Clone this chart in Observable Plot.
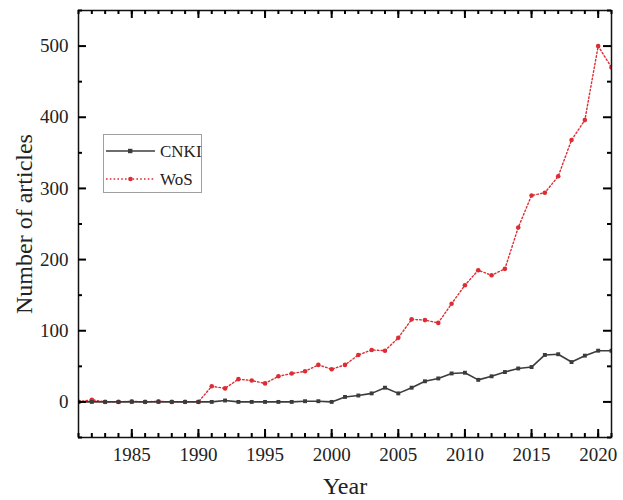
<!DOCTYPE html>
<html>
<head>
<meta charset="utf-8">
<script src="https://cdn.jsdelivr.net/npm/d3@7"></script>
<script src="https://cdn.jsdelivr.net/npm/@observablehq/plot@0.6"></script>
<style>
  html, body { margin: 0; padding: 0; background: #fff; }
  #wrap { position: relative; width: 623px; height: 500px; }
  #legend { position: absolute; left: 103px; top: 134px; }
</style>
</head>
<body>
<div id="wrap"></div>
<script>
const years = d3.range(1981, 2022);
const cnki = [0,0,0,0,0,0,0,0,0,0, 0,2,0,0,0,0,0,1,1,0, 7,9,12,20,12,20,29,33,40,41, 31,36,42,47,49,66,67,56,65,72, 72];
const wos  = [0,3,0,0,1,0,1,0,0,0, 22,19,32,30,26,36,40,43,52,46, 52,66,73,72,90,116,115,111,138,164, 185,178,187,245,290,294,317,368,396,500, 470];
const seriesNames = ["CNKI", "WoS"];
const xMajor = [1985, 1990, 1995, 2000, 2005, 2010, 2015, 2020];
const yMajor = [0, 100, 200, 300, 400, 500];
const yMinor = [-50, 50, 150, 250, 350, 450, 550];

const cnkiData = years.map((y, i) => ({year: y, value: cnki[i]}));
const wosData = years.map((y, i) => ({year: y, value: wos[i]}));

const red = "#dc2c34";
const dark = "#3c3c3c";
const font = "'Liberation Serif', 'Times New Roman', serif";

const W = 623, H = 500, mL = 78, mR = 12, mT = 10, mB = 63;
const innerW = W - mL - mR, innerH = H - mT - mB;
const xDom = [1981, 2021], yDom = [-50, 550];
const kx = (xDom[1] - xDom[0]) / innerW, ky = (yDom[1] - yDom[0]) / innerH;
const major = 8, minor = 4;
const tk = {stroke: "#000", strokeWidth: 2};

const plot = Plot.plot({
  width: W, height: H,
  marginLeft: mL, marginRight: mR, marginTop: mT, marginBottom: mB,
  style: {fontFamily: font, fontSize: "19px", background: "#fff"},
  x: {domain: xDom},
  y: {domain: yDom},
  marks: [
    // series
    Plot.line(wosData, {x: "year", y: "value", stroke: red, strokeWidth: 1.4, strokeDasharray: "1.6,2.2", clip: true}),
    Plot.dot(wosData, {x: "year", y: "value", r: 2.3, fill: red, stroke: "none", clip: true}),
    Plot.line(cnkiData, {x: "year", y: "value", stroke: dark, strokeWidth: 1.6, clip: true}),
    Plot.dot(cnkiData, {x: "year", y: "value", symbol: "square", r: 2.2, fill: dark, stroke: "none", clip: true}),
    Plot.frame({stroke: "#111", strokeWidth: 1.5}),
    // major axes with labels and inward ticks
    Plot.axisX(xMajor, {anchor: "bottom", tickSize: -major, tickPadding: 10 + major, tickFormat: d => String(d), label: null, fontSize: 19, color: "#222", ...tk}),
    Plot.axisY(yMajor, {anchor: "left", tickSize: -major, tickPadding: 10 + major, tickFormat: d => String(d), label: null, fontSize: 19, color: "#222", ...tk}),
    // minor bottom ticks, top ticks
    Plot.ruleX(years, {x: d => d, y1: yDom[0], y2: yDom[0] + minor * ky, ...tk}),
    Plot.ruleX(xMajor, {x: d => d, y1: yDom[1], y2: yDom[1] - major * ky, ...tk}),
    Plot.ruleX(years, {x: d => d, y1: yDom[1], y2: yDom[1] - minor * ky, ...tk}),
    // minor left ticks, right ticks
    Plot.ruleY(yMinor, {y: d => d, x1: xDom[0], x2: xDom[0] + minor * kx, ...tk}),
    Plot.ruleY(yMajor, {y: d => d, x1: xDom[1], x2: xDom[1] - major * kx, ...tk}),
    Plot.ruleY(yMinor, {y: d => d, x1: xDom[1], x2: xDom[1] - minor * kx, ...tk}),
    // axis titles
    Plot.text(["Year"], {frameAnchor: "bottom", dy: 56, fontSize: 24, fill: "#222"}),
    Plot.text(["Number of articles"], {frameAnchor: "left", textAnchor: "middle", dx: -54, rotate: -90, fontSize: 24, fill: "#222"})
  ]
});
document.getElementById("wrap").appendChild(plot);

// legend overlay
const leg = d3.select("#wrap").append("svg")
  .attr("id", "legend")
  .attr("width", 100).attr("height", 59)
  .style("font-family", font);
leg.append("rect").attr("x", 0.5).attr("y", 0.5).attr("width", 98).attr("height", 58)
  .attr("fill", "#fff").attr("stroke", "#a0a0a0").attr("stroke-width", 1);
const rows = [
  {name: seriesNames[0], color: dark, dash: null, sym: "square", y: 17},
  {name: seriesNames[1], color: red, dash: "1.6,2.2", sym: "circle", y: 45}
];
rows.forEach(r => {
  leg.append("line").attr("x1", 3).attr("x2", 52).attr("y1", r.y).attr("y2", r.y)
    .attr("stroke", r.color).attr("stroke-width", r.dash ? 1.4 : 1.6)
    .attr("stroke-dasharray", r.dash);
  if (r.sym === "square") {
    leg.append("rect").attr("x", 25).attr("y", r.y - 2.2).attr("width", 4.4).attr("height", 4.4).attr("fill", r.color);
  } else {
    leg.append("circle").attr("cx", 27.5).attr("cy", r.y).attr("r", 2.3).attr("fill", r.color);
  }
  leg.append("text").attr("x", 57).attr("y", r.y).attr("dy", "0.35em")
    .attr("font-size", 17).attr("fill", "#222").text(r.name);
});
</script>
</body>
</html>
